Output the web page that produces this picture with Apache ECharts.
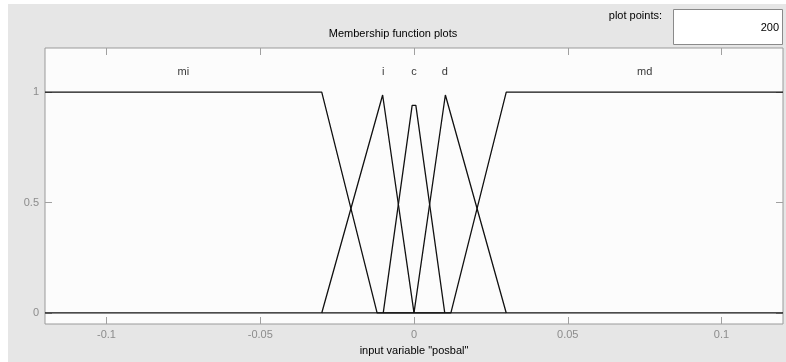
<!DOCTYPE html>
<html>
<head>
<meta charset="utf-8">
<script src="https://cdn.jsdelivr.net/npm/echarts@6/dist/echarts.min.js"></script>
<style>
html,body{margin:0;padding:0;background:#ffffff;}
#chart{width:786px;height:362px;}
</style>
</head>
<body>
<div id="chart"></div>
<script>
// ---- data ----
const mfNames = ['mi', 'i', 'c', 'd', 'md'];
const mfLabelX = [-0.075, -0.01, 0, 0.01, 0.075];
const mfLabelY = 1.09;
const miPts = [[-0.12, 1], [-0.03, 1], [-0.012, 0], [0.12, 0]];
const iPts  = [[-0.03, 0], [-0.0102, 0.987], [0, 0]];
const cPts  = [[-0.01, 0], [-0.0006, 0.94], [0.0006, 0.94], [0.01, 0]];
const dPts  = [[0, 0], [0.0102, 0.987], [0.03, 0]];
const mdPts = [[-0.12, 0], [0.012, 0], [0.03, 1], [0.12, 1]];
const xTicks = [-0.1, -0.05, 0, 0.05, 0.1];
const xTickLabels = ['-0.1', '-0.05', '0', '0.05', '0.1'];
const yTicks = [0, 0.5, 1];
const yTickLabels = ['0', '0.5', '1'];
const xRange = [-0.12, 0.12];
const yRange = [-0.05, 1.2];
const plotPoints = '200';

const chart = echarts.init(document.getElementById('chart'));
const lineStyle = { color: '#111111', width: 1.3 };
const tickStyle = { color: '#a0a0a0', width: 1 };
const font = 'Liberation Sans, Arial, sans-serif';

function mfSeries(name, pts) {
  return {
    name: name, type: 'line', data: pts, symbol: 'none',
    lineStyle: lineStyle, animation: false, silent: true, z: 3
  };
}
function fmt(ticks, labels) {
  return function (v) { const k = ticks.findIndex(t => Math.abs(t - v) < 1e-9); return k >= 0 ? labels[k] : ''; };
}

const option = {
  backgroundColor: 'transparent',
  animation: false,
  title: {
    text: 'Membership function plots',
    left: 'center', top: 23,
    textStyle: { fontSize: 11, fontWeight: 'normal', color: '#000', fontFamily: font }
  },
  graphic: [
    { type: 'rect', z: -10, shape: { x: 8, y: 4, width: 778, height: 358 }, style: { fill: '#e6e6e6' } },
    { type: 'rect', z: 10, shape: { x: 673.5, y: 9.5, width: 109, height: 35 }, style: { fill: '#ffffff', stroke: '#8a8a8a', lineWidth: 1 } },
    { type: 'text', z: 11, x: 779, y: 28, style: { text: plotPoints, align: 'right', verticalAlign: 'middle', fontSize: 11, fill: '#000', fontFamily: font } },
    { type: 'text', z: 11, x: 662, y: 16, style: { text: 'plot points:', align: 'right', verticalAlign: 'middle', fontSize: 11, fill: '#000', fontFamily: font } }
  ],
  grid: {
    left: 45, right: 3, top: 48, bottom: 38,
    show: true, backgroundColor: '#fcfcfc', borderColor: '#9a9a9a', borderWidth: 1
  },
  xAxis: [
    {
      type: 'value', min: xRange[0], max: xRange[1], position: 'bottom',
      name: 'input variable "posbal"', nameLocation: 'middle', nameGap: 21,
      nameTextStyle: { fontSize: 11, color: '#000', fontFamily: font },
      axisLine: { show: false, onZero: false },
      splitLine: { show: false },
      axisTick: { show: true, inside: true, length: 7, lineStyle: tickStyle, customValues: xTicks },
      axisLabel: { show: true, customValues: xTicks, margin: 5, fontSize: 11, color: '#8c8c8c', fontFamily: font, formatter: fmt(xTicks, xTickLabels) }
    },
    {
      type: 'value', min: xRange[0], max: xRange[1], position: 'top',
      axisLine: { show: false, onZero: false }, splitLine: { show: false },
      axisTick: { show: true, inside: true, length: 7, lineStyle: tickStyle, customValues: xTicks },
      axisLabel: { show: false }
    }
  ],
  yAxis: [
    {
      type: 'value', min: yRange[0], max: yRange[1], position: 'left',
      axisLine: { show: false, onZero: false }, splitLine: { show: false },
      axisTick: { show: true, inside: true, length: 7, lineStyle: tickStyle, customValues: yTicks },
      axisLabel: { show: true, customValues: yTicks, margin: 6, fontSize: 11, color: '#8c8c8c', fontFamily: font, formatter: fmt(yTicks, yTickLabels) }
    },
    {
      type: 'value', min: yRange[0], max: yRange[1], position: 'right',
      axisLine: { show: false, onZero: false }, splitLine: { show: false },
      axisTick: { show: true, inside: true, length: 7, lineStyle: tickStyle, customValues: yTicks },
      axisLabel: { show: false }
    }
  ],
  series: [
    mfSeries('mi', miPts),
    mfSeries('i', iPts),
    mfSeries('c', cPts),
    mfSeries('d', dPts),
    mfSeries('md', mdPts),
    {
      type: 'scatter', symbolSize: 0, silent: true, z: 4,
      data: mfNames.map((n, k) => ({ value: [mfLabelX[k], mfLabelY], name: n })),
      label: { show: true, position: 'inside', formatter: '{b}', fontSize: 11, color: '#000', fontFamily: font }
    }
  ]
};
chart.setOption(option);
</script>
</body>
</html>
